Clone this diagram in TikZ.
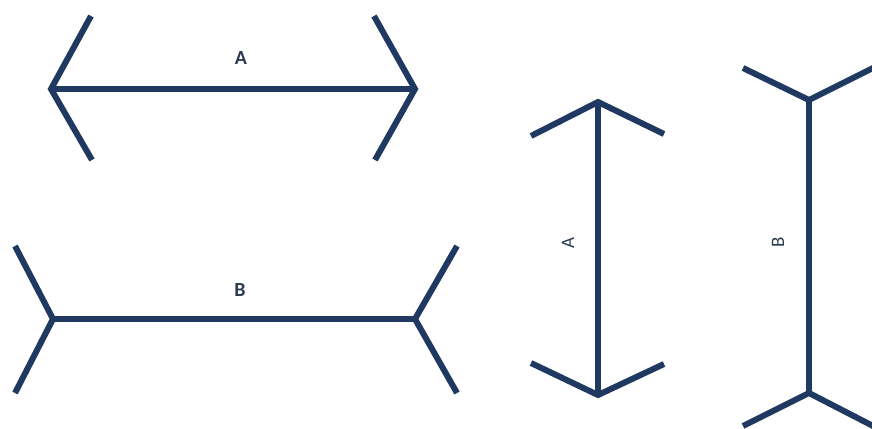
\documentclass[tikz,border=0pt]{standalone}
\usepackage{fontspec}
\setmainfont{Carlito}
\definecolor{navy}{HTML}{1F3960}
\definecolor{lbl}{HTML}{2B3A4F}
\tikzset{
  fig/.style={draw=navy, line width=6pt, line cap=butt, line join=miter},
  hlabel/.style={text=lbl, font=\bfseries\fontsize{20}{22}\selectfont, inner sep=0pt},
  vlabel/.style={text=lbl, font=\fontsize{19}{21}\selectfont, inner sep=0pt, rotate=90}
}
\begin{document}
\begin{tikzpicture}[x=1pt,y=-1pt]
\useasboundingbox (0,0) rectangle (872,428);
\clip (0,0) rectangle (872,428);
% Top A (arrowheads outward)
\coordinate (al) at (51,89);
\coordinate (ar) at (415,89);
\coordinate (alt) at (91,16);
\coordinate (alb) at (92,160);
\coordinate (art) at (374,16);
\coordinate (arb) at (375,160);
\draw[fig] (al) -- (ar);
\draw[fig] (alt) -- (al) -- (alb);
\draw[fig] (art) -- (ar) -- (arb);
\node[hlabel] (la) at (241,58) {A};
% Bottom B (fins outward)
\coordinate (bl) at (53,319);
\coordinate (br) at (415,319);
\coordinate (blt) at (15,246);
\coordinate (blb) at (15,393);
\coordinate (brt) at (457,246);
\coordinate (brb) at (457,393);
\draw[fig] (bl) -- (br);
\draw[fig] (blt) -- (bl) -- (blb);
\draw[fig] (brt) -- (br) -- (brb);
\node[hlabel] (lb) at (240,290) {B};
% Vertical A
\coordinate (vat) at (598,102);
\coordinate (vab) at (598,395);
\draw[fig] (vat) -- (vab);
\draw[fig] (531,136) -- (vat) -- (664,134);
\draw[fig] (531,363) -- (vab) -- (664,364);
\node[vlabel] (lva) at (568,243) {A};
% Vertical B
\coordinate (vbt) at (809,100);
\coordinate (vbb) at (809,393);
\draw[fig] (vbt) -- (vbb);
\draw[fig] (743,68) -- (vbt) -- (875,67);
\draw[fig] (743,426) -- (vbb) -- (875,427);
\node[vlabel] (lvb) at (778,242) {B};
\end{tikzpicture}
\end{document}
